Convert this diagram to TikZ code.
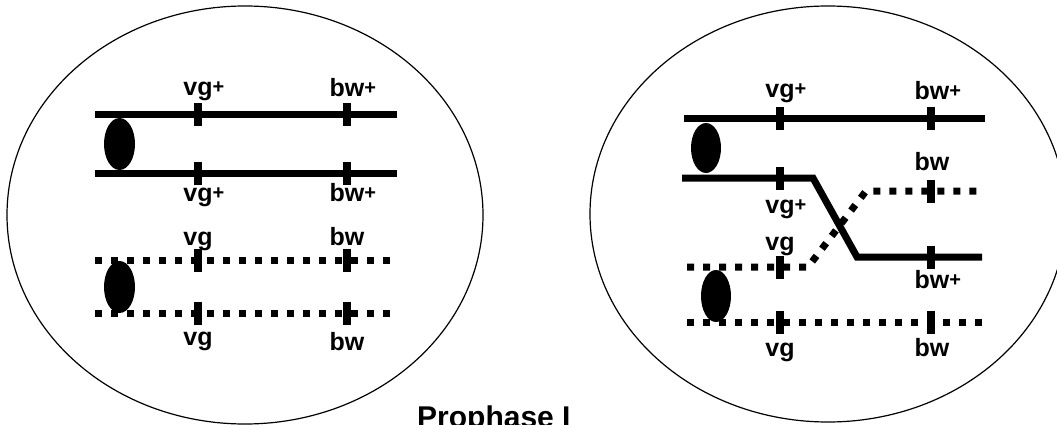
\documentclass[tikz,border=0pt]{standalone}
\usepackage{fontspec}
\setmainfont{Liberation Sans}
\usetikzlibrary{shapes.geometric}
\newcommand{\wild}{\rlap{\fontsize{20}{20}\selectfont\raisebox{2pt}{+}}}

\begin{document}
\begin{tikzpicture}[x=1pt, y=-1pt,
    cell/.style={line width=1.2pt},
    chromatid/.style={line width=7pt},
    mutant/.style={line width=7pt, dash pattern=on 7pt off 9pt},
    genemark/.style={line width=8pt},
    centromere/.style={ellipse, fill=black, inner sep=0pt, minimum width=31pt, minimum height=52pt},
    gene/.style={font=\fontsize{25}{30}\selectfont\bfseries, anchor=base, inner sep=0pt}]
        \clip (0,0) rectangle (1057,425);

        % Left cell
        \draw[cell] (245,215) ellipse [x radius=238pt, y radius=209pt];
        \draw[chromatid] (95,115) -- (397,115);
        \draw[chromatid] (95,173) -- (397,173);
        \draw[mutant] (95,260) -- (391,260);
        \draw[mutant] (95,313) -- (391,313);
        \foreach \x in {198,347}
            \foreach \y in {115,173,260,313}
                \draw[genemark] (\x,\y-11.5) -- (\x,\y+11.5);
        \node[centromere] (cenA) at (119.5,144) {};
        \node[centromere] (cenB) at (119.5,287) {};

        % Left labels
        \node[gene] (vgA) at (198,96) {vg\wild};
        \node[gene] (bwA) at (347,96.5) {bw\wild};
        \node[gene] (vgB) at (198,201.5) {vg\wild};
        \node[gene] (bwB) at (347,201.5) {bw\wild};
        \node[gene] (vgC) at (198,245) {vg};
        \node[gene] (bwC) at (347,245) {bw};
        \node[gene] (vgD) at (198,345) {vg};
        \node[gene] (bwD) at (347,350) {bw};

        % Right cell, after crossing over
        \draw[cell] (828,214) ellipse [x radius=238pt, y radius=208pt];
        \draw[chromatid] (684,119) -- (985,119);
        \draw[chromatid] (682,178) -- (813,178) -- (857,257) -- (982,257);
        \draw[mutant] (687,267) -- (808,267) -- (866,191) -- (985,191);
        \draw[mutant] (687,322) -- (983,322);
        \foreach \y in {119,178,267,322}
            \draw[genemark] (780,\y-11.5) -- (780,\y+11.5);
        \foreach \y in {119,191,257,322}
            \draw[genemark] (931,\y-11.5) -- (931,\y+11.5);
        \node[centromere, minimum width=30pt, minimum height=50pt] (cenC) at (706,148) {};
        \node[centromere, minimum width=30pt] (cenD) at (716,296) {};

        % Right labels
        \node[gene] (vgE) at (780,98) {vg\wild};
        \node[gene] (bwE) at (932,100) {bw\wild};
        \node[gene] (bwF) at (932,170) {bw};
        \node[gene] (vgF) at (780,213.5) {vg\wild};
        \node[gene] (vgG) at (780,250) {vg};
        \node[gene] (bwG) at (932,288) {bw\wild};
        \node[gene] (vgH) at (780,356.5) {vg};
        \node[gene] (bwH) at (932,356.5) {bw};

        % Stage
        \node[font=\fontsize{30}{36}\selectfont\bfseries, anchor=base west, inner sep=0pt] (stage) at (417,427) {Prophase I};
    \end{tikzpicture}
\end{document}
